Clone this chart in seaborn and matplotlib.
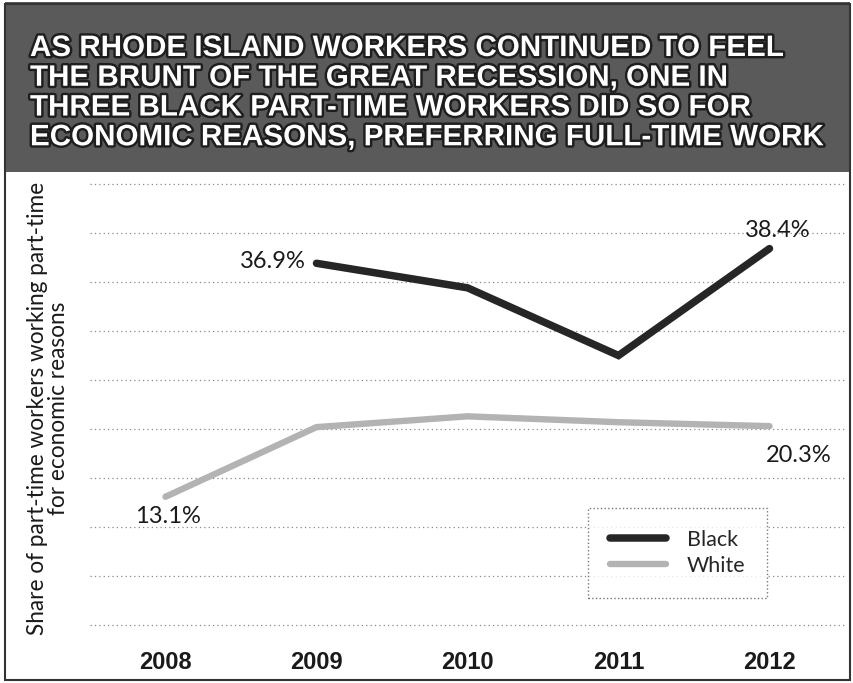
import matplotlib
matplotlib.use("Agg")
import numpy as np
import pandas as pd
import seaborn as sns
import matplotlib.pyplot as plt
from matplotlib import patheffects as pe
from matplotlib.patches import Rectangle
from matplotlib.lines import Line2D

# values
years = [2008, 2009, 2010, 2011, 2012]
black_share = [np.nan, 36.9, 34.4, 27.5, 38.4]
white_share = [13.1, 20.2, 21.3, 20.7, 20.3]
groups = ["Black", "White"]
grid_levels = list(range(0, 50, 5))

title = ("AS RHODE ISLAND WORKERS CONTINUED TO FEEL\n"
         "THE BRUNT OF THE GREAT RECESSION, ONE IN\n"
         "THREE BLACK PART-TIME WORKERS DID SO FOR\n"
         "ECONOMIC REASONS, PREFERRING FULL-TIME WORK")
ylabel = "Share of part-time workers working part-time\nfor economic reasons"

df = pd.DataFrame({
    "year": years * 2,
    "share": black_share + white_share,
    "group": [groups[0]] * len(years) + [groups[1]] * len(years),
})

sns.set_theme(style="white")
plt.rcParams["font.family"] = ["Lato", "DejaVu Sans"]

fig = plt.figure(figsize=(8.54, 6.83), dpi=100)
W, H = 854, 683

# banner
fig.patches.append(Rectangle((5 / W, 1 - 172 / H), 845 / W, 170 / H,
                             transform=fig.transFigure, facecolor="#5a5a5a",
                             edgecolor="none", zorder=0))
fig.text(30 / W, 1 - 34 / H, title, ha="left", va="top", color="white",
         fontsize=21.3, fontweight="bold", linespacing=1.08,
         family=["Liberation Sans", "DejaVu Sans"],
         path_effects=[pe.Stroke(linewidth=3.5, foreground="#1e1e1e"), pe.Normal()])

# outer frame
fig.patches.append(Rectangle((5 / W, 3 / H), 845 / W, 676 / H,
                             transform=fig.transFigure, fill=False,
                             edgecolor="#333333", linewidth=1.5, zorder=5))

ax = fig.add_axes([90 / W, 1 - 640 / H, (845 - 90) / W, (640 - 175) / H])

colors = {"Black": "#262626", "White": "#b3b3b3"}
widths = {"Black": 5.4, "White": 4.6}
for g in groups:
    sns.lineplot(data=df[df["group"] == g], x="year", y="share",
                 color=colors[g], linewidth=widths[g], ax=ax,
                 solid_capstyle="round", solid_joinstyle="miter", zorder=3)

for lv in grid_levels:
    ax.axhline(lv, color="#8a8a8a", linestyle=(0, (1, 2.5)), linewidth=0.9, zorder=1)

ax.set_xlim(2007.5, 2012.5)
ax.set_ylim(-1.5, 45.9)
ax.set_yticks([])
ax.set_xticks(years)
ax.set_xticklabels([str(y) for y in years], fontsize=17, fontweight="bold",
                   family=["Liberation Sans", "DejaVu Sans"], color="#1a1a1a")
ax.tick_params(axis="x", length=0, pad=8)
ax.set_xlabel("")
ax.set_ylabel("")
for s in ax.spines.values():
    s.set_visible(False)

# value labels at the ends of the lines
lab = dict(textcoords="offset points", va="center", fontsize=17, color="#1a1a1a")
ax.annotate("36.9%", xy=(years[1], black_share[1]), xytext=(-8, 1), ha="right", **lab)
ax.annotate("38.4%", xy=(years[4], black_share[4]), xytext=(6, 13), ha="center", **lab)
ax.annotate("20.3%", xy=(years[4], white_share[4]), xytext=(21, -21), ha="center", **lab)
ax.annotate("13.1%", xy=(years[0], white_share[0]), xytext=(1.5, -14), ha="center", **lab)

fig.text(48 / W, 1 - 408 / H, ylabel, rotation=90, ha="center", va="center",
         multialignment="center", fontsize=16.3, linespacing=1.0, color="#1a1a1a")

handles = [Line2D([], [], color=colors[g], linewidth=widths[g], solid_capstyle="round")
           for g in groups]
leg = ax.legend(handles, groups, loc="upper left",
                bbox_to_anchor=(588 / W, 1 - 508 / H), bbox_transform=fig.transFigure,
                fontsize=15.5, handlelength=2.6, handletextpad=1.0, labelspacing=0.3,
                borderpad=1.0, borderaxespad=0, frameon=True, fancybox=False)
frame = leg.get_frame()
frame.set_linestyle(":")
frame.set_edgecolor("#555555")
frame.set_linewidth(1.0)
frame.set_facecolor("white")

fig.savefig("out.png", dpi=100)
